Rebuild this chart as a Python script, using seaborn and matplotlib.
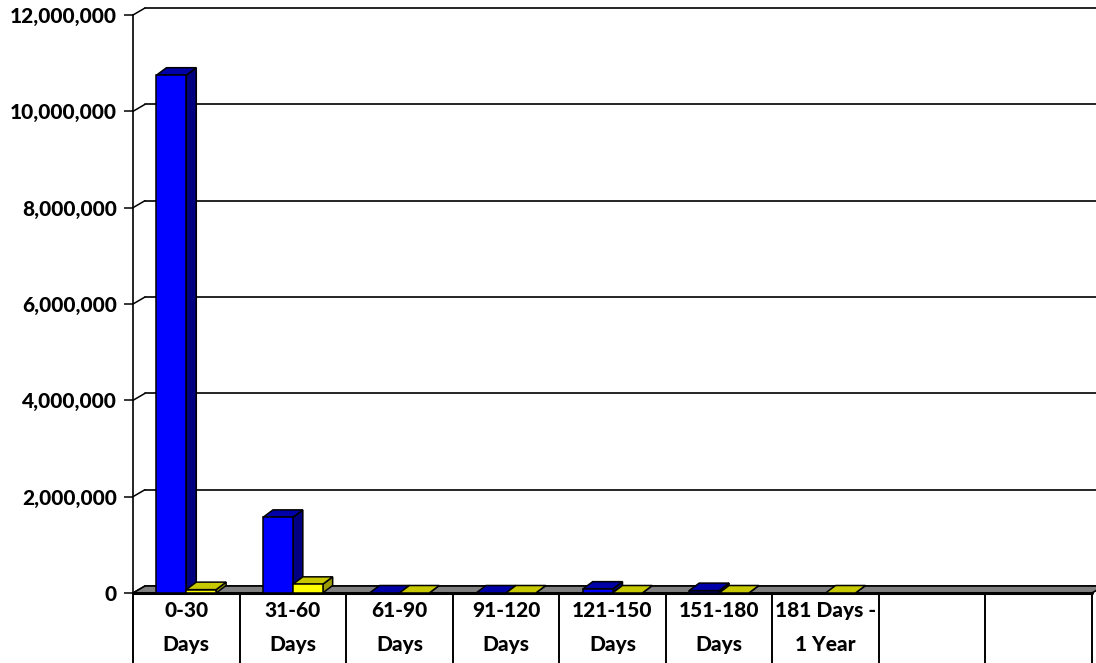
import numpy as np
import pandas as pd
import matplotlib
matplotlib.use("Agg")
import matplotlib.pyplot as plt
from matplotlib.patches import Polygon
from matplotlib.lines import Line2D
import seaborn as sns

# Ageing buckets and the two series plotted per bucket
categories = ["0-30\nDays", "31-60\nDays", "61-90\nDays", "91-120\nDays",
              "121-150\nDays", "151-180\nDays", "181 Days -\n1 Year"]
series_names = ["Series 1", "Series 2"]
series1 = [10750000, 1570000, 0, 0, 80000, 50000, np.nan]
series2 = [70000, 180000, 0, 0, 0, 0, 0]
y_ticks = [0, 2000000, 4000000, 6000000, 8000000, 10000000, 12000000]
n_slots = 9  # two trailing empty buckets

df = pd.DataFrame({
    "bucket": categories * 2,
    "series": [series_names[0]] * len(categories) + [series_names[1]] * len(categories),
    "value": series1 + series2,
})

sns.set_theme(style="white")
plt.rcParams["font.family"] = ["Lato", "DejaVu Sans"]

W, H, DPI = 1096, 663, 100
fig = plt.figure(figsize=(W / DPI, H / DPI), dpi=DPI)
ax_l, ax_r, ax_b, ax_t = 133, 1092, 593, 15
ax = fig.add_axes([ax_l / W, (H - ax_b) / H, (ax_r - ax_l) / W, (ax_b - ax_t) / H])

front_cols = {"Series 1": "#0000FF", "Series 2": "#FFFF00"}
top_cols = {"Series 1": "#0000A8", "Series 2": "#C8C800"}
side_cols = {"Series 1": "#000080", "Series 2": "#9C9C00"}

sns.barplot(data=df, x="bucket", y="value", hue="series", order=categories,
            hue_order=series_names, palette=front_cols, width=0.56,
            edgecolor="black", linewidth=1.1, legend=False, ax=ax, errorbar=None)

LABEL_FS = 15
LABEL_WEIGHT = 900

ax.set_xlim(-0.5, n_slots - 0.5)
ax.set_ylim(0, y_ticks[-1])
ax.set_xlabel("")
ax.set_ylabel("")
ax.set_yticks(y_ticks)
ax.set_yticklabels([f"{v:,}" for v in y_ticks], fontsize=LABEL_FS, fontweight=LABEL_WEIGHT)
ax.set_xticks(range(len(categories)))
ax.set_xticklabels(categories, fontsize=LABEL_FS, fontweight=LABEL_WEIGHT, linespacing=1.9)
ax.tick_params(axis="y", which="major", left=True, length=6.5, width=1.1,
               pad=5, colors="black", direction="out")
ax.tick_params(axis="x", length=0, pad=6, colors="black")
for s in ["top", "right", "bottom"]:
    ax.spines[s].set_visible(False)
ax.spines["left"].set_color("black")
ax.spines["left"].set_linewidth(1.2)
ax.set_facecolor("none")
ax.patch.set_visible(False)

# depth offsets in pixels (right, up)
WALL_DX, WALL_DY = 12, 7
BAR_DX, BAR_DY = 10, 7.5

to_disp = ax.transData.transform


def disp(x, y, dx=0.0, dy=0.0):
    px, py = to_disp((x, y))
    return (px + dx, py + dy)


def add_poly(pts, face, z, lw=1.1):
    fig.add_artist(Polygon(pts, closed=True, facecolor=face, edgecolor="black",
                           linewidth=lw, transform=None, zorder=z))


def add_line(pts, z, lw=1.1, color="black"):
    xs, ys = zip(*pts)
    fig.add_artist(Line2D(xs, ys, color=color, linewidth=lw, transform=None, zorder=z))


x0, x1 = -0.5, n_slots - 0.5

# back wall gridlines and tick connectors
for v in y_ticks:
    add_line([disp(x0, v, WALL_DX, WALL_DY), disp(x1, v, WALL_DX + 20, WALL_DY)], 0.5, lw=1.2)
    add_line([disp(x0, v), disp(x0, v, WALL_DX, WALL_DY)], 0.5, lw=1.1)

# floor slab
add_poly([disp(x0, 0), disp(x1, 0), disp(x1, 0, WALL_DX, WALL_DY), disp(x0, 0, WALL_DX, WALL_DY)],
         "#808080", 1.0, lw=1.2)
add_line([disp(x0, 0), disp(x1, 0)], 1.05, lw=2.2)

# bucket dividers running down through the label band
for k in range(n_slots + 1):
    ax.plot([k - 0.5, k - 0.5], [0, -70 / 578], color="black", lw=1.4,
            transform=ax.get_xaxis_transform(), clip_on=False, zorder=1)

# extrude every bar into a 3D column
bars = []
for name, cont in zip(series_names, ax.containers):
    for rect in cont:
        h = rect.get_height()
        if not np.isfinite(h):
            continue
        bars.append((rect.get_x(), rect, name))
bars.sort(key=lambda b: b[0])
for i, (_, rect, name) in enumerate(bars):
    xl = rect.get_x()
    xr = xl + rect.get_width()
    h = rect.get_height()
    z = 2 + i * 0.01
    add_poly([disp(xr, 0), disp(xr, h), disp(xr, h, BAR_DX, BAR_DY), disp(xr, 0, BAR_DX, BAR_DY)],
             side_cols[name], z)
    add_poly([disp(xl, h), disp(xr, h), disp(xr, h, BAR_DX, BAR_DY), disp(xl, h, BAR_DX, BAR_DY)],
             top_cols[name], z + 0.002)
    if h > 0:
        fr = Polygon([disp(xl, 0), disp(xr, 0), disp(xr, h), disp(xl, h)], closed=True,
                     facecolor=front_cols[name], edgecolor="black", linewidth=1.1,
                     transform=None, zorder=z + 0.005)
        fig.add_artist(fr)
    rect.set_visible(False)

fig.savefig("out.png", dpi=DPI)
